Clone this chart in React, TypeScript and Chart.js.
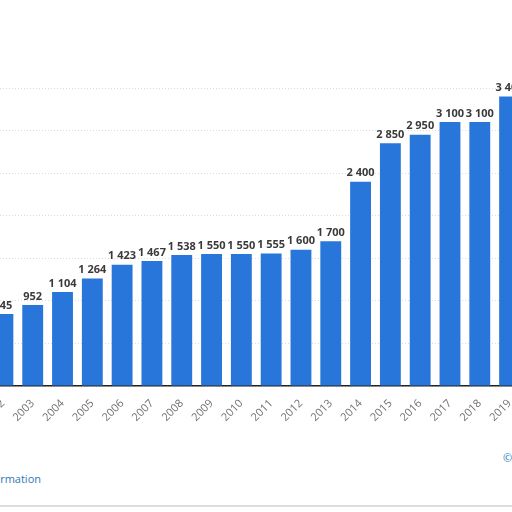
import React, { useEffect, useRef } from "react";
import { Chart, registerables } from "chart.js";

Chart.register(...registerables);

const years = ["2002", "2003", "2004", "2005", "2006", "2007", "2008", "2009", "2010", "2011", "2012", "2013", "2014", "2015", "2016", "2017", "2018", "2019"];
const values = [845, 952, 1104, 1264, 1423, 1467, 1538, 1550, 1550, 1555, 1600, 1700, 2400, 2850, 2950, 3100, 3100, 3400];
const yMax = 3500;
const yStep = 500;

const fmt = (v: number) => String(v).replace(/\B(?=(\d{3})+(?!\d))/g, " ");

const labelPlugin = {
  id: "barLabels",
  afterDatasetsDraw(chart: any) {
    const ctx = chart.ctx;
    const meta = chart.getDatasetMeta(0);
    ctx.save();
    ctx.font = "bold 11px 'Open Sans', sans-serif";
    ctx.fillStyle = "#3a3a3a";
    ctx.textAlign = "center";
    ctx.textBaseline = "bottom";
    meta.data.forEach((bar: any, i: number) => {
      ctx.fillText(fmt(values[i]), bar.x, bar.y - 3);
    });
    ctx.restore();
  },
};

export default function App() {
  const ref = useRef<HTMLCanvasElement | null>(null);
  useEffect(() => {
    if (!ref.current) return;
    const chart = new Chart(ref.current, {
      type: "bar",
      data: {
        labels: years,
        datasets: [
          {
            data: values,
            backgroundColor: "#2876d9",
            categoryPercentage: 1,
            barPercentage: 0.7,
          },
        ],
      },
      options: {
        animation: false,
        responsive: false,
        devicePixelRatio: 1,
        layout: { padding: { left: 8, right: 15.5, top: 88, bottom: 0 } },
        plugins: { legend: { display: false }, tooltip: { enabled: false } },
        scales: {
          x: {
            grid: { display: false },
            border: { display: true, color: "#222222", width: 1.5 },
            ticks: {
              color: "#707070",
              font: { family: "'Open Sans', sans-serif", size: 11 },
              minRotation: 45,
              maxRotation: 45,
              autoSkip: false,
              padding: 3,
            },
            afterFit: (s: any) => {
              s.height = 54;
              s.paddingLeft = 0;
              s.paddingRight = 0;
            },
          },
          y: {
            min: 0,
            max: yMax,
            ticks: { display: false, stepSize: yStep },
            border: { display: false, dash: [1, 2] },
            grid: { color: "#dcdcdc", drawTicks: false },
            afterFit: (s: any) => {
              s.width = 0;
            },
          },
        },
      },
      plugins: [labelPlugin],
    } as any);
    return () => chart.destroy();
  }, []);

  return (
    <div style={{ position: "fixed", left: 0, top: 0, width: 512, height: 512, overflow: "hidden", background: "#ffffff" }}>
      <canvas ref={ref} width={560} height={440} style={{ position: "absolute", left: -20, top: 0, width: 560, height: 440 }} />
      <span style={{ position: "absolute", right: 471, top: 471, fontFamily: "'Open Sans', sans-serif", fontSize: 11, color: "#2a78b8", whiteSpace: "nowrap" }}>
        Additional Information
      </span>
      <span style={{ position: "absolute", left: 503, top: 450, fontFamily: "'Open Sans', sans-serif", fontSize: 11, color: "#2a78b8", whiteSpace: "nowrap" }}>
        © Statista 2021
      </span>
      <div style={{ position: "absolute", left: 0, top: 505, width: 512, height: 0, borderTop: "2px solid #dddddd" }} />
    </div>
  );
}
